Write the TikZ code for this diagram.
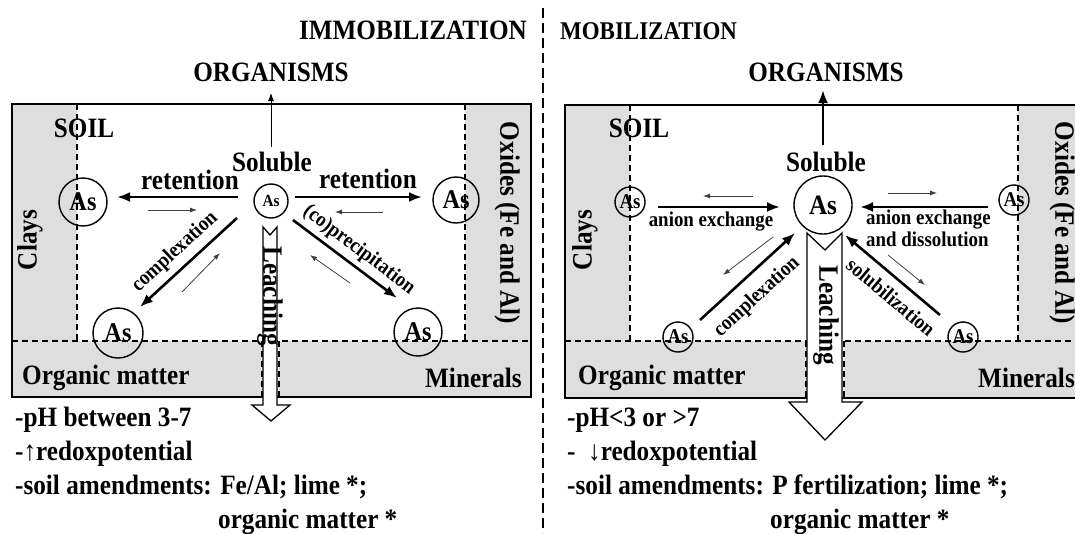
\documentclass[tikz,border=0pt]{standalone}
\usepackage{fontspec}
\setmainfont{Liberation Serif}[FakeStretch=0.9]
\usetikzlibrary{arrows.meta}
\newcommand{\fsz}[1]{\fontsize{#1}{#1}\selectfont\bfseries}
\begin{document}
\begin{tikzpicture}[x=1pt,y=-1pt,
  lbl/.style={inner sep=0pt, font=\fsz{28}},
  sml/.style={inner sep=0pt, font=\fsz{21}},
  ascirc/.style={circle, draw, line width=1.4pt, inner sep=0pt},
  frame/.style={line width=1.8pt},
  dsh/.style={line width=1.2pt, dash pattern=on 6pt off 4pt},
  divider/.style={line width=2.4pt, dash pattern=on 10pt off 5pt},
  bigarr/.style={line width=2.6pt, -{Latex[length=13pt,width=10pt]}},
  thinarr/.style={line width=0.8pt, draw=black!75, -{Latex[length=7pt,width=5pt]}},
  soilgray/.style={fill=black!13},
  shaft/.style={fill=white, draw, line width=1.3pt},
]
\useasboundingbox (0,0) rectangle (1075,533);

% ---------- headings ----------
\node[lbl, font=\fsz{28}, anchor=base east] (immo) at (527,39) {IMMOBILIZATION};
\node[lbl, font=\fsz{25.5}, anchor=base west] (mobi) at (560,39) {MOBILIZATION};
\draw[divider] (543,8) -- (543,533);

% ================= LEFT PANEL =================
\fill[soilgray] (12,104) rectangle (77,341);
\fill[soilgray] (465,104) rectangle (531,341);
\fill[soilgray] (12,341) rectangle (262,397);
\fill[soilgray] (279,341) rectangle (531,397);
\draw[dsh] (77,104) -- (77,341);
\draw[dsh] (465,104) -- (465,341);
\draw[dsh] (12,341) -- (531,341);
\draw[dsh] (262,341) -- (262,397);
\draw[dsh] (279,341) -- (279,397);
\draw[frame] (12,104) rectangle (531,397);
% leaching arrow (left)
\draw[shaft] (263,227) -- (270,235) -- (277,227) -- (277,405) -- (290,405)
  -- (271,421) -- (252,405) -- (263,405) -- cycle;
\node[lbl, rotate=-90] (leachL) at (270,296) {Leaching};

\node[lbl, font=\fsz{28}] (orgL) at (271,72) {ORGANISMS};
\node[lbl] (solL) at (272,162) {Soluble};
\node[lbl] (soilL) at (84,128) {SOIL};
\node[lbl, rotate=90] (claysL) at (30,240) {Clays};
\node[lbl, rotate=-90] (oxL) at (507,223) {Oxides (Fe and Al)};
\node[lbl, anchor=west] (omL) at (22,378) {Organic matter};
\node[lbl, anchor=west] (minL) at (425,378) {Minerals};

\node[ascirc, minimum size=34pt, font=\fsz{17}] (asLs) at (271,201) {As};
\node[ascirc, minimum size=48pt, font=\fsz{27}] (asLc) at (83,202) {As};
\node[ascirc, minimum size=46pt, font=\fsz{27}] (asLo) at (456,200) {As};
\node[ascirc, minimum size=50pt, font=\fsz{27}] (asLm) at (118,333) {As};
\node[ascirc, minimum size=48pt, font=\fsz{27}] (asLn) at (418,332) {As};

\coordinate (upL1) at (271,147);
\coordinate (upL2) at (271,93);
\draw[line width=0.9pt, -{Latex[length=8pt,width=6pt]}] (upL1) -- (upL2);

\coordinate (r1a) at (238,197); \coordinate (r1b) at (117,197);
\draw[bigarr] (r1a) -- (r1b);
\node[lbl] (retL) at (190,180) {retention};
\coordinate (t1a) at (148,210); \coordinate (t1b) at (197,210);
\draw[thinarr] (t1a) -- (t1b);

\coordinate (r2a) at (295,197); \coordinate (r2b) at (422,197);
\draw[bigarr] (r2a) -- (r2b);
\node[lbl] (retR) at (368,179) {retention};
\coordinate (t2a) at (383,212); \coordinate (t2b) at (335,212);
\draw[thinarr] (t2a) -- (t2b);

\coordinate (c1a) at (237,218); \coordinate (c1b) at (140,307);
\draw[bigarr] (c1a) -- (c1b);
\node[sml, rotate=42.5] (cxL) at (175,252) {complexation};
\coordinate (t3a) at (182,292); \coordinate (t3b) at (220,253);
\draw[thinarr] (t3a) -- (t3b);

\coordinate (p1a) at (293,220); \coordinate (p1b) at (397,298);
\draw[bigarr] (p1a) -- (p1b);
\node[sml, rotate=-37] (cpL) at (359,250) {(co)precipitation};
\coordinate (t4a) at (350,283); \coordinate (t4b) at (310,255);
\draw[thinarr] (t4a) -- (t4b);

\node[lbl, anchor=base west] (l1) at (15,426) {-pH between 3-7};
\node[lbl, anchor=base west] (l2) at (15,460) {-{\mdseries ↑}redoxpotential};
\node[lbl, anchor=base west] (l3) at (15,494) {-soil amendments: Fe/Al; lime *;};
\node[lbl, anchor=base west] (l4) at (218,528) {organic matter *};

% ================= RIGHT PANEL =================
\fill[soilgray] (565,105) rectangle (630,341);
\fill[soilgray] (1018,105) rectangle (1085,341);
\fill[soilgray] (565,341) rectangle (806,398);
\fill[soilgray] (844,341) rectangle (1085,398);
\draw[dsh] (630,105) -- (630,341);
\draw[dsh] (1018,105) -- (1018,341);
\draw[dsh] (565,341) -- (1085,341);
\draw[dsh] (806,341) -- (806,398);
\draw[dsh] (844,341) -- (844,398);
\draw[frame] (565,105) -- (1085,105);
\draw[frame] (565,398) -- (1085,398);
\draw[frame] (565,104) -- (565,399);
% leaching arrow (right)
\draw[shaft] (807,233) -- (825,250) -- (842,233) -- (842,402) -- (862,402)
  -- (825,440) -- (789,402) -- (807,402) -- cycle;
\node[lbl, rotate=-90] (leachR) at (826,315) {Leaching};

\node[lbl, font=\fsz{28}] (orgR) at (826,72) {ORGANISMS};
\node[lbl] (solR) at (826,162) {Soluble};
\node[lbl] (soilR) at (639,128) {SOIL};
\node[lbl, rotate=90] (claysR) at (585,240) {Clays};
\node[lbl, rotate=-90] (oxR) at (1062,223) {Oxides (Fe and Al)};
\node[lbl, anchor=west] (omR) at (578,378) {Organic matter};
\node[lbl, anchor=west] (minR) at (978,378) {Minerals};

\node[ascirc, minimum size=58pt, font=\fsz{28}] (asRs) at (823,205) {As};
\node[ascirc, minimum size=30pt, font=\fsz{21}] (asRc) at (630,202) {As};
\node[ascirc, minimum size=30pt, font=\fsz{21}] (asRo) at (1014,200) {As};
\node[ascirc, minimum size=30pt, font=\fsz{21}] (asRm) at (678,337) {As};
\node[ascirc, minimum size=30pt, font=\fsz{21}] (asRn) at (963,337) {As};

\coordinate (upR1) at (823,145);
\coordinate (upR2) at (823,90);
\draw[bigarr] (upR1) -- (upR2);

\coordinate (a1a) at (658,207); \coordinate (a1b) at (780,207);
\draw[bigarr] (a1a) -- (a1b);
\node[sml] (axL) at (711,222) {anion exchange};
\coordinate (s1a) at (753,196); \coordinate (s1b) at (703,196);
\draw[thinarr] (s1a) -- (s1b);

\coordinate (a2a) at (988,207); \coordinate (a2b) at (860,207);
\draw[bigarr] (a2a) -- (a2b);
\node[sml, anchor=north west, align=left, font=\fontsize{21}{22}\selectfont\bfseries] (axR) at (866,210) {anion exchange\\and dissolution};
\coordinate (s2a) at (888,193); \coordinate (s2b) at (937,193);
\draw[thinarr] (s2a) -- (s2b);

\coordinate (c2a) at (700,320); \coordinate (c2b) at (795,233);
\draw[bigarr] (c2a) -- (c2b);
\node[sml, rotate=42.5] (cxR) at (757,297) {complexation};
\coordinate (s3a) at (773,237); \coordinate (s3b) at (723,275);
\draw[thinarr] (s3a) -- (s3b);

\coordinate (b1a) at (940,315); \coordinate (b1b) at (845,235);
\draw[bigarr] (b1a) -- (b1b);
\node[sml, rotate=-40] (sbR) at (891,297) {solubilization};
\coordinate (s4a) at (888,255); \coordinate (s4b) at (925,285);
\draw[thinarr] (s4a) -- (s4b);

\node[lbl, anchor=base west] (r1) at (567,426) {-pH<3 or >7};
\node[lbl, anchor=base west] (r2) at (567,460) {-\ \ {\mdseries ↓}redoxpotential};
\node[lbl, anchor=base west] (r3) at (567,494) {-soil amendments: P fertilization; lime *;};
\node[lbl, anchor=base west] (r4) at (770,528) {organic matter *};
\end{tikzpicture}
\end{document}
